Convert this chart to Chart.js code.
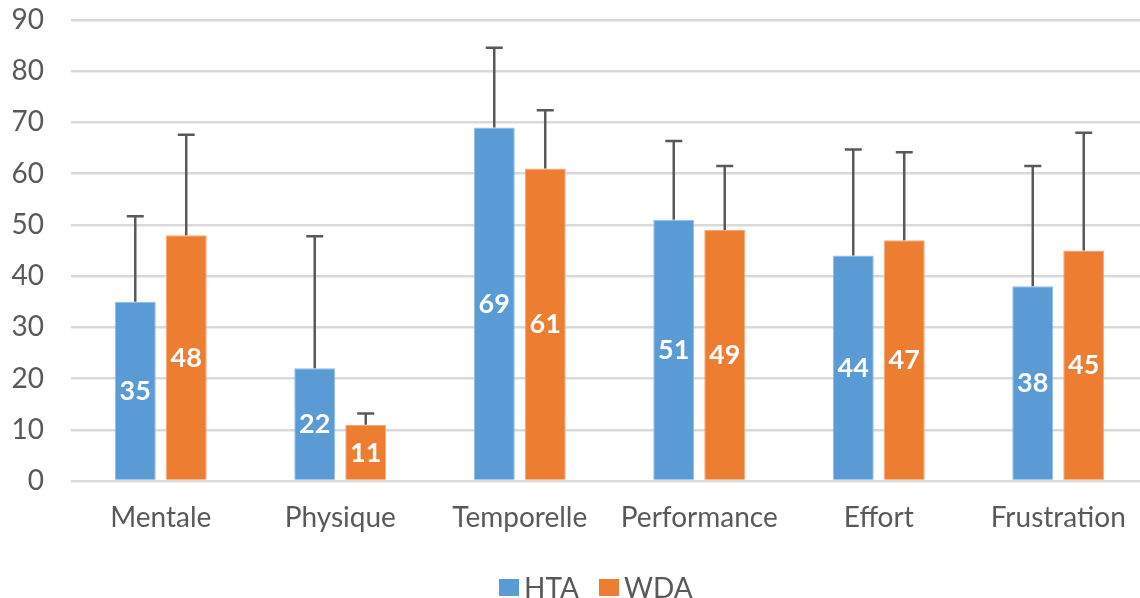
<!DOCTYPE html>
<html>
<head>
<meta charset="utf-8">
<script src="https://cdn.jsdelivr.net/npm/chart.js@4.4.0/dist/chart.umd.min.js"></script>
<style>
  html, body { margin: 0; padding: 0; background: #fff; width: 1140px; height: 598px; overflow: hidden; }
  #wrap { width: 1148px; height: 598px; position: relative; }
  #legend { position: absolute; left: 499px; top: 572px; display: flex; align-items: center;
            font-family: Lato, "Open Sans", sans-serif; font-size: 28px; color: #595959; line-height: 30px; }
  #legend .box { display: inline-block; width: 20px; height: 17px; margin-right: 5px; }
  #legend .item { display: flex; align-items: center; margin-right: 20px; }
</style>
</head>
<body>
<div id="wrap">
  <canvas id="chart"></canvas>
  <div id="legend"></div>
</div>
<script>
// categories and values
const categories = ['Mentale', 'Physique', 'Temporelle', 'Performance', 'Effort', 'Frustration'];
const htaValues = [35, 22, 69, 51, 44, 38];
const wdaValues = [48, 11, 61, 49, 47, 45];
// top of the error bars (value + deviation)
const htaErrTop = [51.7, 47.8, 84.6, 66.4, 64.7, 61.5];
const wdaErrTop = [67.6, 13.2, 72.4, 61.5, 64.2, 68.0];
const yTicks = [0, 10, 20, 30, 40, 50, 60, 70, 80, 90];

const errTops = [htaErrTop, wdaErrTop];
const fontFamily = 'Lato, "Open Sans", sans-serif';

// error bars + white labels inside the bars
const barExtras = {
  id: 'barExtras',
  afterDatasetsDraw(chart) {
    const ctx = chart.ctx;
    const yScale = chart.scales.y;
    chart.data.datasets.forEach((ds, d) => {
      const meta = chart.getDatasetMeta(d);
      meta.data.forEach((bar, i) => {
        const top = yScale.getPixelForValue(ds.data[i]);
        const errY = yScale.getPixelForValue(errTops[d][i]);
        ctx.save();
        ctx.strokeStyle = '#595959';
        ctx.lineWidth = 2.5;
        ctx.beginPath();
        ctx.moveTo(bar.x, top);
        ctx.lineTo(bar.x, errY);
        ctx.moveTo(bar.x - 8.5, errY);
        ctx.lineTo(bar.x + 8.5, errY);
        ctx.stroke();
        // label au milieu de la barre
        const mid = (top + yScale.getPixelForValue(0)) / 2;
        ctx.fillStyle = '#fff';
        ctx.font = 'bold 27px ' + fontFamily;
        ctx.textAlign = 'center';
        ctx.textBaseline = 'middle';
        ctx.fillText(String(ds.data[i]), bar.x, mid);
        ctx.restore();
      });
    });
  }
};

const chart = new Chart(document.getElementById('chart'), {
  type: 'bar',
  data: {
    labels: categories,
    datasets: [
      { label: 'HTA', data: htaValues, backgroundColor: '#5B9BD5', borderColor: '#8FBCE6', borderWidth: 1 },
      { label: 'WDA', data: wdaValues, backgroundColor: '#ED7D31', borderColor: '#F4A97A', borderWidth: 1 }
    ]
  },
  options: {
    responsive: true,
    maintainAspectRatio: false,
    animation: false,
    layout: { padding: { top: 20, right: 0, left: 0, bottom: 57 } },
    datasets: {
      bar: { categoryPercentage: 0.568, barPercentage: 0.804 }
    },
    plugins: {
      tooltip: { enabled: false },
      legend: { display: false }
    },
    scales: {
      x: {
        grid: { display: false },
        border: { display: false },
        afterFit(axis) { axis.height = 60; },
        ticks: {
          color: '#595959',
          padding: 12,
          font: { family: fontFamily, size: 28 }
        }
      },
      y: {
        min: 0,
        max: 90,
        afterBuildTicks(axis) { axis.ticks = yTicks.map(v => ({ value: v })); },
        afterFit(axis) {
          axis.width = 71;
          axis.paddingTop = 0;
          axis.paddingBottom = 0;
        },
        grid: { color: '#d9d9d9', lineWidth: 2.5, drawTicks: false },
        border: { display: false },
        ticks: {
          color: '#595959',
          padding: 27,
          font: { family: fontFamily, size: 28 }
        }
      }
    }
  },
  plugins: [barExtras]
});

// legende en html sous le graphique
const legend = document.getElementById('legend');
chart.data.datasets.forEach(ds => {
  legend.insertAdjacentHTML('beforeend',
    `<span class="item"><span class="box" style="background:${ds.backgroundColor}"></span>${ds.label}</span>`);
});
</script>
</body>
</html>
